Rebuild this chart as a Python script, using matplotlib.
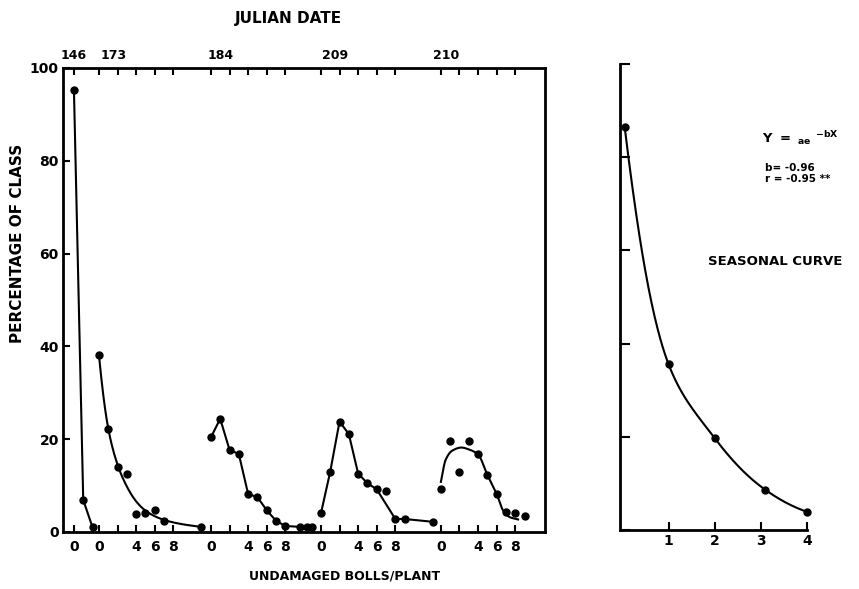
import numpy as np
import matplotlib
matplotlib.use("Agg")
import matplotlib.pyplot as plt

# percentage of plants in each class of undamaged bolls/plant, per julian date
dates = ["146", "173", "184", "209", "210"]

bolls_146 = [0, 1, 2]
pct_146 = [95.3, 6.9, 1.0]

bolls_173 = [0, 1, 2, 3, 4, 5, 6, 7, 11]
pct_173 = [38.1, 22.3, 13.9, 12.6, 3.9, 4.0, 4.7, 2.4, 1.1]
curve_bolls_173 = [0, 1, 2, 3, 4, 5, 7, 11]
curve_pct_173 = [38.1, 22.3, 14.5, 9.8, 6.6, 4.6, 2.6, 1.1]

bolls_184 = [0, 1, 2, 3, 4, 5, 6, 7, 8, 9.6, 10.3, 10.9]
pct_184 = [20.4, 24.4, 17.7, 16.8, 8.2, 7.5, 4.7, 2.4, 1.3, 1.1, 1.1, 1.1]

bolls_209 = [0, 1, 2, 3, 4, 5, 6, 7, 8, 9, 12]
pct_209 = [4.0, 13.0, 23.8, 21.1, 12.6, 10.5, 9.2, 8.8, 2.8, 2.8, 2.2]
line_bolls_209 = [0, 1, 2, 3, 4, 5, 6, 8, 9, 12]
line_pct_209 = [4.0, 13.0, 23.8, 21.1, 12.6, 10.5, 9.2, 2.8, 2.8, 2.2]

bolls_210 = [0, 1, 2, 3, 4, 5, 6, 7, 8, 9]
pct_210 = [9.2, 19.6, 13.0, 19.6, 16.7, 12.3, 8.2, 4.2, 4.0, 3.4]
curve_bolls_210 = [0, 0.5, 1.2, 2.2, 3, 4, 5, 6, 6.7, 7.4, 8.3]
curve_pct_210 = [10.8, 15.5, 17.5, 18.2, 17.8, 16.7, 12.3, 8.2, 4.6, 3.2, 2.7]

# seasonal curve
season_x = [0.05, 1, 2, 3.1, 4]
season_y = [86.5, 35.6, 19.7, 8.6, 3.9]

# where each date's group starts on the shared x axis
offsets = [0, 2.69, 14.73, 26.56, 39.46]
date_label_shift = [0, 1.6, 1.0, 1.5, 0.6]


def pchip(x, y, n=300):
    # piecewise cubic hermite curve through the points
    x = np.asarray(x, float)
    y = np.asarray(y, float)
    h = np.diff(x)
    d = np.diff(y) / h
    m = np.zeros_like(y)
    m[0], m[-1] = d[0], d[-1]
    for k in range(1, len(x) - 1):
        if d[k - 1] * d[k] > 0:
            w1 = 2 * h[k] + h[k - 1]
            w2 = h[k] + 2 * h[k - 1]
            m[k] = (w1 + w2) / (w1 / d[k - 1] + w2 / d[k])
    xs = np.linspace(x[0], x[-1], n)
    idx = np.clip(np.searchsorted(x, xs) - 1, 0, len(x) - 2)
    hk = h[idx]
    t = (xs - x[idx]) / hk
    h00 = 2 * t ** 3 - 3 * t ** 2 + 1
    h10 = t ** 3 - 2 * t ** 2 + t
    h01 = -2 * t ** 3 + 3 * t ** 2
    h11 = t ** 3 - t ** 2
    ys = h00 * y[idx] + h10 * hk * m[idx] + h01 * y[idx + 1] + h11 * hk * m[idx + 1]
    return xs, ys


def log_pchip(x, y):
    xs, ly = pchip(x, np.log(y))
    return xs, np.exp(ly)


plt.rcParams['font.family'] = 'DejaVu Sans'
plt.rcParams['font.weight'] = 'bold'

fig = plt.figure(figsize=(8.59, 5.89), dpi=100)
ax = fig.add_axes([0.0733, 0.0968, 0.5611, 0.7878])
ax2 = fig.add_axes([0.7218, 0.1002, 0.2177, 0.7911])

mk = dict(marker='o', color='black', markersize=5, linestyle='none', zorder=3)
ln = dict(color='black', lw=1.5)

# 146
o = offsets[0]
ax.plot(np.array(bolls_146) + o, pct_146, **ln)
ax.plot(np.array(bolls_146) + o, pct_146, **mk)
# 173
o = offsets[1]
cx, cy = log_pchip(curve_bolls_173, curve_pct_173)
ax.plot(cx + o, cy, **ln)
ax.plot(np.array(bolls_173) + o, pct_173, **mk)
# 184
o = offsets[2]
ax.plot(np.array(bolls_184) + o, pct_184, **ln)
ax.plot(np.array(bolls_184) + o, pct_184, **mk)
# 209
o = offsets[3]
ax.plot(np.array(line_bolls_209) + o, line_pct_209, **ln)
ax.plot(np.array(bolls_209) + o, pct_209, **mk)
# 210
o = offsets[4]
cx, cy = pchip(curve_bolls_210, curve_pct_210)
ax.plot(cx + o, cy, **ln)
ax.plot(np.array(bolls_210) + o, pct_210, **mk)

ax.set_xlim(-1.18, 50.65)
ax.set_ylim(0, 100)

ticks = [offsets[0]]
labels = ["0"]
for o in offsets[1:]:
    for v in [0, 2, 4, 6, 8]:
        ticks.append(o + v)
        labels.append("" if v == 2 else str(v))
ax.set_xticks(ticks)
ax.set_xticklabels(labels)
ax.set_yticks([0, 20, 40, 60, 80, 100])
ax.tick_params(axis='x', direction='in', length=5, width=1.5, top=True,
               labelsize=10, pad=6)
ax.tick_params(axis='y', direction='in', length=5, width=1.5,
               labelsize=10, pad=3)
for s in ax.spines.values():
    s.set_linewidth(2)

top = ax.secondary_xaxis('top')
top.set_xticks([o + d for o, d in zip(offsets, date_label_shift)])
top.set_xticklabels(dates)
top.tick_params(length=0, labelsize=9, pad=4)
top.spines['top'].set_visible(False)

fig.text(288 / 859, 1 - 18 / 589, "JULIAN DATE", ha='center', va='center',
         fontsize=11, fontweight='bold')
fig.text(18 / 859, 1 - 243 / 589, "PERCENTAGE OF CLASS", rotation=90,
         ha='center', va='center', fontsize=11, fontweight='bold')
fig.text(345 / 859, 1 - 576 / 589, "UNDAMAGED BOLLS/PLANT", ha='center',
         va='center', fontsize=9, fontweight='bold')

# seasonal panel
sx, sy = log_pchip(season_x, season_y)
ax2.plot(sx, sy, **ln)
ax2.plot(season_x, season_y, clip_on=False, **mk)
ax2.set_xlim(-0.05, 4.0)
ax2.set_ylim(0, 100)
ax2.set_xticks([1, 2, 3, 4])
ax2.set_yticks([0, 20, 40, 60, 80, 100])
ax2.set_yticklabels([])
ax2.tick_params(axis='x', direction='in', length=6, width=1.5, labelsize=10, pad=3)
ax2.tick_params(axis='y', direction='in', length=7, width=1.5)
ax2.spines['top'].set_visible(False)
ax2.spines['right'].set_visible(False)
for s in ['left', 'bottom']:
    ax2.spines[s].set_linewidth(2)

fig.text(762 / 859, 1 - 138 / 589, r"$\mathbf{Y\ =\ _{ae}\ ^{-bX}}$",
         ha='left', va='center', fontsize=9.5)
fig.text(765 / 859, 1 - 168 / 589, "b= -0.96", ha='left', va='center',
         fontsize=7.5, fontweight='bold')
fig.text(765 / 859, 1 - 179 / 589, "r = -0.95 **", ha='left', va='center',
         fontsize=7.5, fontweight='bold')
fig.text(775 / 859, 1 - 261 / 589, "SEASONAL CURVE", ha='center', va='center',
         fontsize=9.5, fontweight='bold')

fig.savefig("out.png", dpi=100)
